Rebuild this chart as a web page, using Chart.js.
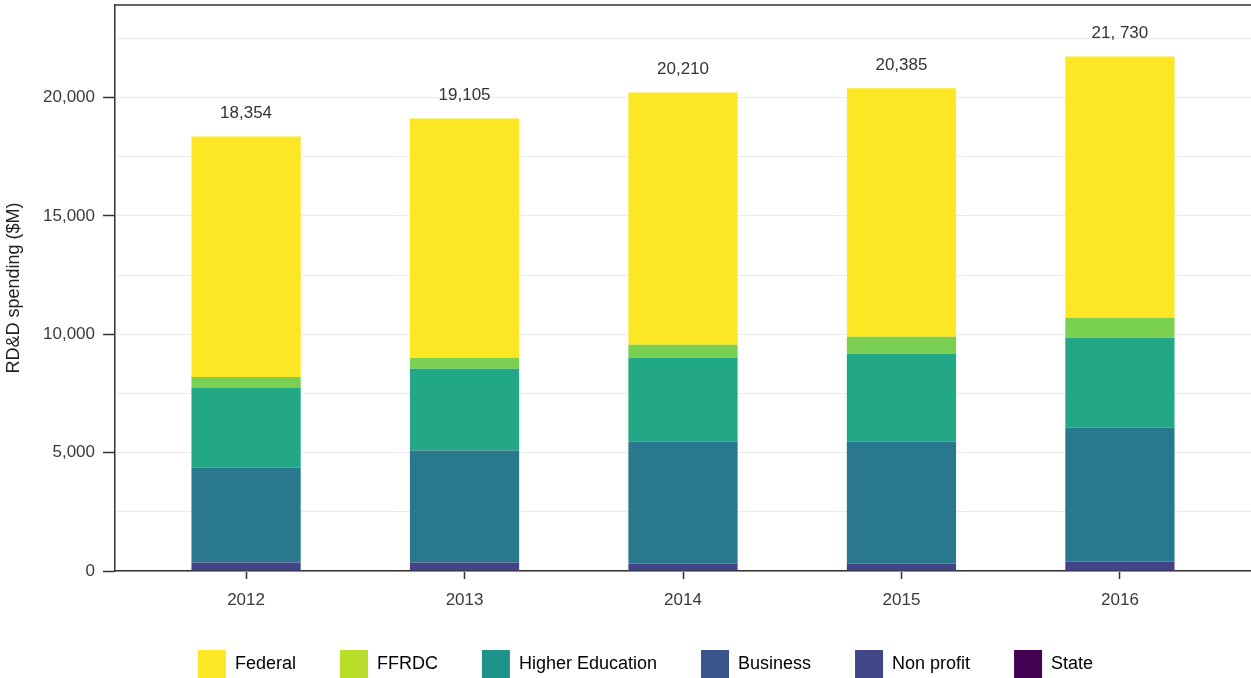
<!DOCTYPE html>
<html>
<head>
<meta charset="utf-8">
<script src="https://cdn.jsdelivr.net/npm/chart.js@4.4.1/dist/chart.umd.min.js"></script>
<style>
  html, body { margin: 0; padding: 0; background: #fff; }
  #wrap { width: 1251px; height: 678px; }
</style>
</head>
<body>
<div id="wrap"><canvas id="rdChart" width="1251" height="678"></canvas></div>
<script>
const years = ['2012', '2013', '2014', '2015', '2016'];

// values ($M)
const stateVals = [0, 0, 0, 0, 0];
const nonProfitVals = [360, 360, 316, 316, 400];
const businessVals = [4000, 4724, 5148, 5148, 5655];
const higherEdVals = [3370, 3460, 3544, 3713, 3797];
const ffrdcVals = [460, 464, 549, 718, 844];
const federalVals = [10164, 10097, 10653, 10490, 11034];

const totalLabels = ['18,354', '19,105', '20,210', '20,385', '21, 730'];

const seriesNames = ['State', 'Non profit', 'Business', 'Higher Education', 'FFRDC', 'Federal'];
const barColors = ['#440154', '#414487', '#2A788E', '#22A884', '#7AD151', '#FDE725'];
const legendColors = ['#440154', '#404788', '#39568C', '#20928C', '#B8DE29', '#FDE725'];

const yTicks = [0, 5000, 10000, 15000, 20000];
const yGrid = [0, 2500, 5000, 7500, 10000, 12500, 15000, 17500, 20000, 22500];

const fontName = '"Liberation Sans", Arial, Helvetica, sans-serif';
const legendPad = 44;

function toPoints(vals) {
    return vals.map((v, i) => ({ x: i, y: v }));
}

// total above each bar
const totalsPlugin = {
    id: 'totals',
    afterDatasetsDraw(chart) {
        const ctx = chart.ctx;
        const xs = chart.scales.x;
        const ys = chart.scales.y;
        ctx.save();
        ctx.font = '17px ' + fontName;
        ctx.fillStyle = '#333333';
        ctx.textAlign = 'center';
        ctx.textBaseline = 'middle';
        years.forEach((yr, i) => {
            let sum = 0;
            chart.data.datasets.forEach(ds => { sum += ds.data[i].y; });
            ctx.fillText(totalLabels[i], xs.getPixelForValue(i), ys.getPixelForValue(sum) - 23);
        });
        ctx.restore();
    }
};

// top edge of the panel
const topLinePlugin = {
    id: 'topLine',
    afterDraw(chart) {
        const { ctx, chartArea } = chart;
        ctx.save();
        ctx.strokeStyle = '#333333';
        ctx.lineWidth = 1.5;
        ctx.beginPath();
        ctx.moveTo(chartArea.left, chartArea.top);
        ctx.lineTo(chartArea.right, chartArea.top);
        ctx.stroke();
        ctx.restore();
    }
};

const ctx = document.getElementById('rdChart').getContext('2d');

new Chart(ctx, {
    type: 'bar',
    data: {
        datasets: [
            { label: seriesNames[0], data: toPoints(stateVals), backgroundColor: barColors[0] },
            { label: seriesNames[1], data: toPoints(nonProfitVals), backgroundColor: barColors[1] },
            { label: seriesNames[2], data: toPoints(businessVals), backgroundColor: barColors[2] },
            { label: seriesNames[3], data: toPoints(higherEdVals), backgroundColor: barColors[3] },
            { label: seriesNames[4], data: toPoints(ffrdcVals), backgroundColor: barColors[4] },
            { label: seriesNames[5], data: toPoints(federalVals), backgroundColor: barColors[5] }
        ]
    },
    options: {
        responsive: false,
        animation: false,
        categoryPercentage: 1.0,
        barPercentage: 0.5,
        layout: { padding: { left: 40, right: 0, top: 5, bottom: -10 } },
        scales: {
            x: {
                type: 'linear',
                stacked: true,
                offset: false,
                min: -0.6,
                max: 4.6,
                afterBuildTicks: scale => {
                    scale.ticks = years.map((y, i) => ({ value: i }));
                },
                afterFit: scale => {
                    scale.height = 79 - legendPad;
                    scale.paddingLeft = 0;
                    scale.paddingRight = 0;
                },
                ticks: {
                    callback: (value) => years[value],
                    font: { family: fontName, size: 17 },
                    color: '#3a3a3a',
                    padding: 11,
                    maxRotation: 0,
                    autoSkip: false
                },
                grid: {
                    offset: false,
                    drawOnChartArea: false,
                    drawTicks: true,
                    tickLength: 8,
                    tickColor: '#333333',
                    tickWidth: 1.5
                },
                border: { display: true, color: '#333333', width: 1.5 }
            },
            y: {
                stacked: true,
                min: 0,
                max: 23903,
                afterBuildTicks: scale => {
                    scale.ticks = yGrid.map(v => ({ value: v }));
                },
                afterFit: scale => {
                    scale.width = 75;
                    scale.paddingTop = 0;
                    scale.paddingBottom = 0;
                },
                ticks: {
                    callback: (value) => yTicks.includes(value) ? value.toLocaleString('en-US') : '',
                    font: { family: fontName, size: 17 },
                    color: '#3a3a3a',
                    padding: 8,
                    autoSkip: false
                },
                grid: {
                    color: '#ebebeb',
                    lineWidth: 1,
                    drawTicks: true,
                    tickLength: 12,
                    tickColor: c => yTicks.includes(c.tick.value) ? '#333333' : 'rgba(0,0,0,0)',
                    tickWidth: 1.5
                },
                border: { display: true, color: '#333333', width: 1.5 },
                title: {
                    display: true,
                    text: 'RD&D spending ($M)',
                    font: { family: fontName, size: 18 },
                    color: '#222222',
                    padding: { top: -37, bottom: 0 }
                }
            }
        },
        plugins: {
            tooltip: { enabled: false },
            legend: {
                position: 'bottom',
                align: 'center',
                labels: {
                    boxWidth: 28,
                    boxHeight: 28,
                    padding: legendPad,
                    color: '#333333',
                    font: { family: fontName, size: 18 },
                    generateLabels: () => seriesNames.map((name, i) => ({
                        text: name,
                        fillStyle: legendColors[i],
                        strokeStyle: legendColors[i],
                        lineWidth: 0,
                        hidden: false,
                        datasetIndex: i
                    })).reverse()
                }
            }
        }
    },
    plugins: [totalsPlugin, topLinePlugin]
});
</script>
</body>
</html>
